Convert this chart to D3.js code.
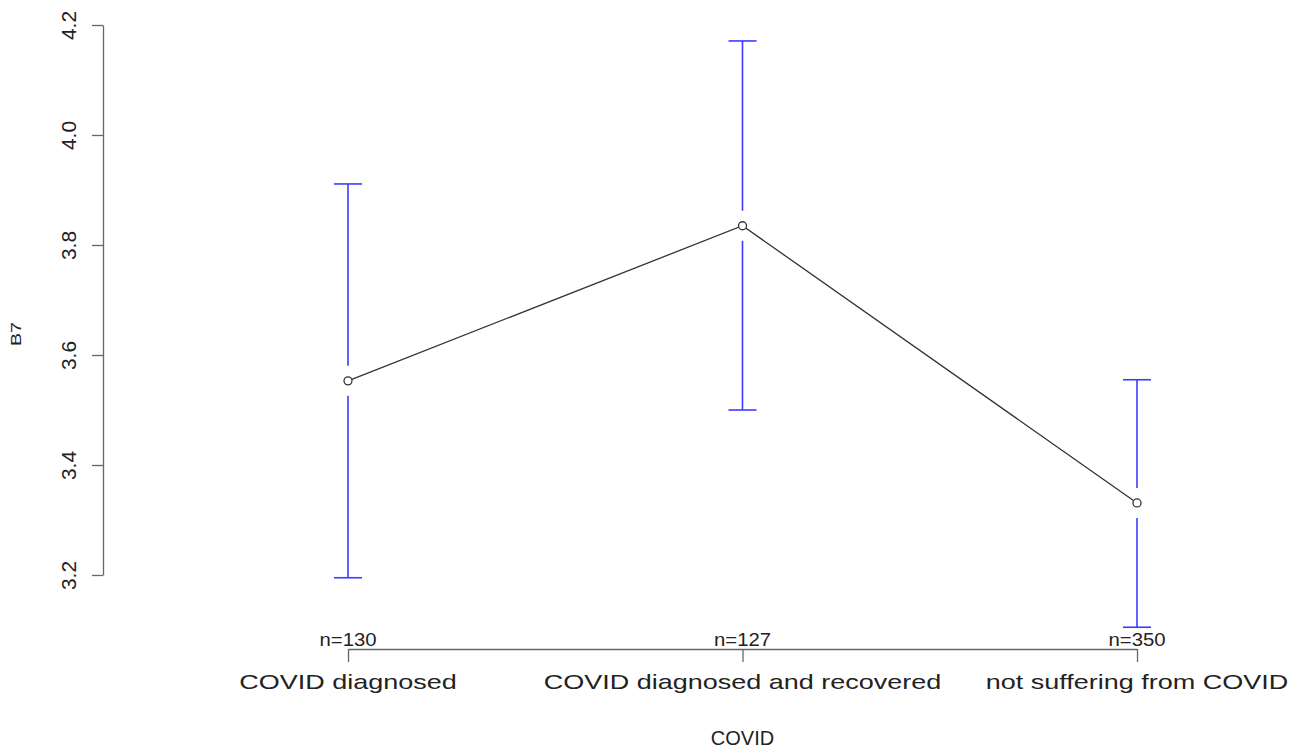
<!DOCTYPE html>
<html>
<head>
<meta charset="utf-8">
<script src="https://cdn.jsdelivr.net/npm/d3@7"></script>
<style>
  body { margin: 0; background: #fff; }
  text { font-family: "Liberation Sans", Arial, sans-serif; fill: #222; }
</style>
</head>
<body>
<div id="chart"></div>
<script>
// data
let groups = ["COVID diagnosed", "COVID diagnosed and recovered", "not suffering from COVID"]
let counts = [130, 127, 350]
let means = [3.553, 3.835, 3.331]
let lower = [3.195, 3.500, 3.105]
let upper = [3.911, 4.171, 3.555]
let yTicks = [3.2, 3.4, 3.6, 3.8, 4.0, 4.2]

let W = 1307, H = 749
let svg = d3.select("#chart").append("svg")
    .attr("width", W)
    .attr("height", H)

let x = d3.scalePoint()
    .domain(groups)
    .range([348, 1137])
    .padding(0)

let y = d3.scaleLinear()
    .domain([3.2, 4.2])
    .range([575, 25])

// y axis
let yAxisCall = d3.axisLeft(y)
    .tickValues(yTicks)
    .tickSize(11)
    .tickSizeOuter(0)
    .tickFormat(d3.format(".1f"))
let yAxis = svg.append("g")
    .attr("transform", "translate(103, 0)")
    .call(yAxisCall)
yAxis.selectAll("path, line").attr("stroke", "#666").attr("stroke-width", 1.3)
// tick groups already carry translate(0, y) -> only rotate the label here
yAxis.selectAll("text")
    .attr("x", null).attr("dy", null)
    .attr("y", 0)
    .attr("font-size", "21px")
    .attr("text-anchor", "middle")
    .attr("transform", "translate(-27, 0) rotate(-90)")
    .attr("fill", "#222")

// x axis
let xAxisCall = d3.axisBottom(x)
    .tickSize(13)
    .tickSizeOuter(0)
    .tickFormat("")
let xAxis = svg.append("g")
    .attr("transform", "translate(0, 649)")
    .call(xAxisCall)
xAxis.selectAll("path, line").attr("stroke", "#666").attr("stroke-width", 1.3)

// category labels
svg.selectAll(".cat")
    .data(groups)
    .enter().append("text")
    .attr("class", "cat")
    .attr("font-size", "20px")
    .attr("text-anchor", "middle")
    .attr("transform", d => `translate(${x(d)}, 689) scale(1.35, 1)`)
    .text(d => d)

// n= labels
svg.selectAll(".nlab")
    .data(groups)
    .enter().append("text")
    .attr("class", "nlab")
    .attr("font-size", "18px")
    .attr("text-anchor", "middle")
    .attr("transform", d => `translate(${x(d)}, 646) scale(1.13, 1)`)
    .text((d, i) => "n=" + counts[i])

// axis titles
svg.append("text")
    .attr("font-size", "20px")
    .attr("text-anchor", "middle")
    .attr("x", (x.range()[0] + x.range()[1]) / 2)
    .attr("y", 745)
    .text("COVID")

svg.append("text")
    .attr("font-size", "14px")
    .attr("text-anchor", "middle")
    .attr("transform", "translate(21, 334) rotate(-90) scale(1.4, 1)")
    .text("B7")

// error bars with a gap around the mean
let gap = 15, cap = 14
let bars = svg.append("g").attr("stroke", "#3b3bff").attr("stroke-width", 1.6)
groups.forEach((g, i) => {
    let cx = x(g)
    let ym = y(means[i])
    bars.append("line")
        .attr("x1", cx).attr("x2", cx)
        .attr("y1", y(upper[i])).attr("y2", ym - gap)
    bars.append("line")
        .attr("x1", cx).attr("x2", cx)
        .attr("y1", ym + gap).attr("y2", y(lower[i]))
    bars.append("line")
        .attr("x1", cx - cap).attr("x2", cx + cap)
        .attr("y1", y(upper[i])).attr("y2", y(upper[i]))
    bars.append("line")
        .attr("x1", cx - cap).attr("x2", cx + cap)
        .attr("y1", y(lower[i])).attr("y2", y(lower[i]))
})

// mean line + points
let line = d3.line()
    .x((d, i) => x(groups[i]))
    .y(d => y(d))
svg.append("path")
    .datum(means)
    .attr("d", line)
    .attr("fill", "none")
    .attr("stroke", "#333")
    .attr("stroke-width", 1.3)

svg.selectAll(".pt")
    .data(means)
    .enter().append("circle")
    .attr("class", "pt")
    .attr("cx", (d, i) => x(groups[i]))
    .attr("cy", d => y(d))
    .attr("r", 4)
    .attr("fill", "#fff")
    .attr("stroke", "#333")
    .attr("stroke-width", 1.3)
</script>
</body>
</html>
